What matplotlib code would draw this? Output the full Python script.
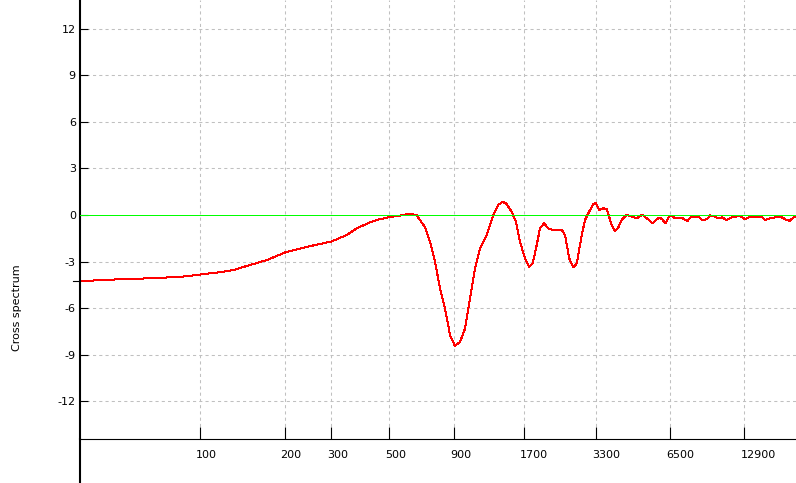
import numpy as np
import matplotlib
matplotlib.use('Agg')
import matplotlib.pyplot as plt
from matplotlib.lines import Line2D
from matplotlib.transforms import ScaledTranslation, blended_transform_factory

plt.rcParams['font.family'] = ['DejaVu Sans']
plt.rcParams['axes.unicode_minus'] = False

# frequency (Hz) and cross spectrum value
freqs = [43, 54, 65, 78, 88, 100, 117, 130, 145, 172, 201, 228, 256, 301, 343,
         375, 422, 461, 504, 552, 604, 641, 691, 723, 756, 792, 828, 867, 906,
         949, 993, 1039, 1088, 1138, 1210, 1285, 1344, 1399, 1442, 1519, 1580,
         1640, 1716, 1780, 1842, 1910, 1969, 2042, 2125, 2224, 2402, 2476, 2575,
         2673, 2757, 2887, 2976, 3115, 3211, 3283, 3384, 3502, 3633, 3686, 3805,
         3920, 4041, 4170, 4365, 4571, 4784, 5038, 5248, 5547, 5754,
         5932, 6080, 6210, 6300, 6430, 6590, 6808, 7239, 7625, 7866, 8437,
         8760, 9130, 9399, 9839, 10080, 10550, 10900, 11500, 11900, 12387,
         13000, 13500, 14455, 15132, 15600, 16400, 17375, 18200, 19052, 19600,
         20300, 20762]
values = [-4.26, -4.15, -4.09, -4.02, -3.96, -3.83, -3.68, -3.55, -3.29, -2.90,
          -2.41, -2.17, -1.96, -1.70, -1.29, -0.86, -0.47, -0.27, -0.13, -0.04,
          0.09, -0.02, -0.79, -1.72, -3.01, -4.73, -6.02, -7.74, -8.43, -8.17,
          -7.31, -5.38, -3.44, -2.15, -1.29, 0.0, 0.65, 0.84, 0.75, 0.21, -0.43,
          -1.72, -2.80, -3.33, -3.12, -1.94, -0.86, -0.54, -0.86, -0.99, -0.95,
          -1.29, -2.80, -3.38, -3.12, -1.29, -0.32, 0.32, 0.69, 0.77, 0.32, 0.43,
          0.39, 0.04, -0.65, -1.05, -0.80, -0.30, 0.0, -0.11, -0.21, 0.02, -0.21,
          -0.54, -0.26,
          -0.17, -0.32, -0.54, -0.43, -0.10, -0.06, -0.21, -0.17, -0.39, -0.15,
          -0.11, -0.32, -0.28, -0.02, -0.11, -0.21, -0.15, -0.32, -0.15, -0.11,
          -0.06, -0.28, -0.13, -0.13, -0.13, -0.32, -0.21, -0.13, -0.15, -0.32,
          -0.37, -0.15, -0.06]

x_ticks = [100, 200, 300, 500, 900, 1700, 3300, 6500, 12900]
y_ticks = [12, 9, 6, 3, 0, -3, -6, -9, -12]
y_label = 'Cross spectrum'

OFFSET = 15.0


def fwd(f):
    return np.log2(np.maximum(np.asarray(f, dtype=float) - OFFSET, 1e-6))


def inv(v):
    return np.power(2.0, v) + OFFSET


W, H = 796, 483
fig = plt.figure(figsize=(W / 100, H / 100), dpi=100)
ax = fig.add_axes([80 / W, 1 - 439.3 / H, 716 / W, 439.3 / H])
ax.set_xscale('function', functions=(fwd, inv))
ax.set_xlim(43, 20762)
ax.set_ylim(-14.44, 13.84)

for s in ('top', 'right'):
    ax.spines[s].set_visible(False)
ax.spines['left'].set_linewidth(1.5)
ax.spines['bottom'].set_linewidth(0.8)

ax.set_xticks(x_ticks)
ax.set_xticklabels([str(t) for t in x_ticks])
ax.xaxis.set_minor_locator(matplotlib.ticker.NullLocator())
ax.set_yticks(y_ticks)
ax.set_yticklabels([str(t) for t in y_ticks])

ax.tick_params(axis='x', direction='in', length=8.6, width=0.8, pad=8,
               labelsize=8, colors='black')
ax.tick_params(axis='y', direction='in', length=5.8, width=0.8, pad=3,
               labelsize=8, colors='black')
shift = ScaledTranslation(-4 / 100, 0, fig.dpi_scale_trans)
for lbl in ax.get_xticklabels():
    lbl.set_horizontalalignment('left')
    lbl.set_transform(lbl.get_transform() + shift)

grid_style = dict(color='#c0c0c0', linewidth=0.75, linestyle=(0, (3, 3)))
for t in x_ticks:
    ax.axvline(t, zorder=0, **grid_style)
for t in y_ticks:
    if t != 0:
        ax.axhline(t, zorder=0, **grid_style)

ax.plot(freqs, values, color='#ff0000', linewidth=0.72, zorder=2,
        antialiased=False)
ax.axhline(0, color='#00ff00', linewidth=0.72, zorder=3, antialiased=False)

# small marker at the curve start, left of the axis
tr = blended_transform_factory(ax.transAxes, ax.transData)
ax.add_line(Line2D([-7 / 716, 0], [values[0], values[0]], transform=tr,
                   color='black', linewidth=0.8, clip_on=False))

# left axis line continues below the x axis
fig.add_artist(Line2D([80 / W, 80 / W], [0, 1 - 439.3 / H], color='black',
                      linewidth=1.5, transform=fig.transFigure))

fig.text(17.5 / W, 1 - 308 / H, y_label, rotation=90, ha='center', va='center',
         fontsize=8)

fig.savefig('out.png', dpi=100)
